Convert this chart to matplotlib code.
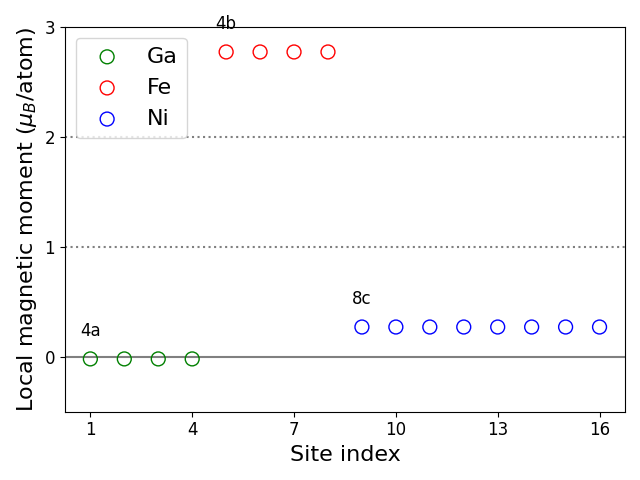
import matplotlib
matplotlib.use("Agg")
import matplotlib.pyplot as plt
import numpy as np

# site indices and moments per species
ga_sites = [1, 2, 3, 4]
ga_moments = [-0.02, -0.02, -0.02, -0.02]
fe_sites = [5, 6, 7, 8]
fe_moments = [2.77, 2.77, 2.77, 2.77]
ni_sites = [9, 10, 11, 12, 13, 14, 15, 16]
ni_moments = [0.27, 0.27, 0.27, 0.27, 0.27, 0.27, 0.27, 0.27]

wyckoff_labels = ["4a", "4b", "8c"]
xticks = [1, 4, 7, 10, 13, 16]

fig, ax = plt.subplots(figsize=(6.4, 4.8), dpi=100)

ax.axhline(0, color="grey", lw=1.5, zorder=0)
ax.axhline(1, color="grey", ls=":", lw=1.5, zorder=0)
ax.axhline(2, color="grey", ls=":", lw=1.5, zorder=0)

ax.scatter(ga_sites, ga_moments, s=100, facecolors="none", edgecolors="green", label="Ga")
ax.scatter(fe_sites, fe_moments, s=100, facecolors="none", edgecolors="red", label="Fe")
ax.scatter(ni_sites, ni_moments, s=100, facecolors="none", edgecolors="blue", label="Ni")

for lab, xs, ys in zip(wyckoff_labels, [ga_sites, fe_sites, ni_sites],
                       [ga_moments, fe_moments, ni_moments]):
    ax.text(xs[0], ys[0] + 0.17, lab, ha="center", va="bottom", fontsize=12)

ax.set_ylim(-0.5, 3)
ax.set_xticks(xticks)
ax.set_yticks([0, 1, 2, 3])
ax.tick_params(labelsize=12)
ax.set_xlabel("Site index", fontsize=16)
ax.set_ylabel(r"Local magnetic moment ($\mu_B$/atom)", fontsize=16)
ax.legend(fontsize=16, loc="upper left")

fig.tight_layout()
fig.savefig("out.png")
